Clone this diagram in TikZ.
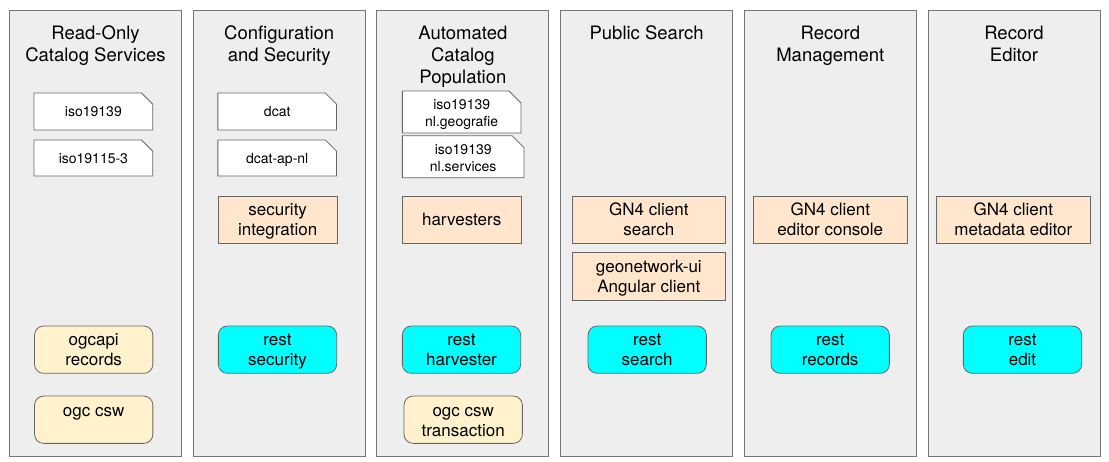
\documentclass[tikz,border=0pt]{standalone}
\usepackage{fontspec}
\setmainfont{TeX Gyre Heros}
\usetikzlibrary{shapes.misc}
\definecolor{panelfill}{HTML}{EEEEEE}
\definecolor{panelline}{HTML}{777777}
\definecolor{boxline}{HTML}{666666}
\definecolor{peach}{HTML}{FFE6CC}
\definecolor{cream}{HTML}{FFF2CC}
\definecolor{cyanfill}{HTML}{00FFFF}
\tikzset{
  x=1pt,y=-1pt,
  panel/.style={draw=panelline,fill=panelfill,line width=0.9pt,minimum width=172pt,minimum height=446pt,inner sep=0pt},
  ptitle/.style={align=center,font=\fontsize{18.5}{22}\selectfont,inner sep=0pt,anchor=base},
  docbox/.style={chamfered rectangle,chamfered rectangle corners=north east,
    chamfered rectangle xsep=6pt,chamfered rectangle ysep=6pt,
    draw=boxline,fill=white,line width=0.8pt,inner sep=0pt,
    minimum width=118.7pt,minimum height=37pt,align=center,
    font=\fontsize{14}{17.5}\selectfont},
  docone/.style={docbox,text height=10.4pt,text depth=0pt},
  doctwo/.style={docbox,text height=30pt,text depth=0pt},
  compbox/.style={draw=boxline,fill=peach,line width=0.8pt,inner sep=0pt,
    minimum width=118.7pt,minimum height=47.3pt,align=center,
    font=\fontsize{17}{20}\selectfont},
  apibox/.style={draw=boxline,line width=0.8pt,rounded corners=9pt,inner sep=0pt,
    minimum width=118.3pt,minimum height=47.3pt,align=center,
    font=\fontsize{17}{20}\selectfont},
  restbox/.style={apibox,fill=cyanfill},
  ogcbox/.style={apibox,fill=cream},
  lineone/.style={text height=12pt,text depth=0pt},
  linetwo/.style={text height=32.6pt,text depth=0pt},
}
\begin{document}
\begin{tikzpicture}
\useasboundingbox (0,0) rectangle (1109,462);
% panels
\node[panel] (p1) at (95.5,233) {};
\node[panel] (p2) at (279.2,233) {};
\node[panel] (p3) at (462.9,233) {};
\node[panel] (p4) at (646.6,233) {};
\node[panel] (p5) at (830.3,233) {};
\node[panel] (p6) at (1014,233) {};
% titles (anchored at the baseline of their last line)
\node[ptitle] (t1) at (95.5,62) {Read-Only\\Catalog Services};
\node[ptitle] (t2) at (279.2,62) {Configuration\\and Security};
\node[ptitle] (t3) at (462.9,84) {Automated\\Catalog\\Population};
\node[ptitle] (t4) at (646.6,40) {Public Search};
\node[ptitle] (t5) at (830.3,62) {Record\\Management};
\node[ptitle] (t6) at (1014,62) {Record\\Editor};
% documents
\node[docone] (d11) at (93.4,111.5) {iso19139};
\node[docone,minimum height=36pt] (d12) at (93.4,158) {iso19115-3};
\node[docone] (d21) at (277.2,111.5) {dcat};
\node[docone,minimum height=36pt] (d22) at (277.2,158) {dcat-ap-nl};
\node[doctwo,minimum height=37.4pt] (d31) at (461.7,112) {iso19139\\nl.geografie};
\node[doctwo,minimum width=121.7pt,minimum height=36.7pt] (d32) at (463.2,156.7) {iso19139\\nl.services};
% components
\node[compbox,linetwo] (c2) at (277.7,219.6) {security\\integration};
\node[compbox,lineone] (c3) at (461.7,219.6) {harvesters};
\node[compbox,linetwo,minimum width=153pt] (c4a) at (648.8,219.6) {GN4 client\\search};
\node[compbox,linetwo,minimum width=153pt,minimum height=48pt] (c4b) at (648.8,276.7) {geonetwork-ui\\Angular client};
\node[compbox,linetwo,minimum width=154pt] (c5) at (830.3,219.6) {GN4 client\\editor console};
\node[compbox,linetwo,minimum width=153.3pt] (c6) at (1013.3,219.6) {GN4 client\\metadata editor};
% apis
\node[ogcbox,linetwo] (a11) at (93.7,349.7) {ogcapi\\records};
\node[ogcbox,linetwo] (a12) at (93.7,419.7) {ogc csw\\\mbox{}};
\node[restbox,linetwo] (a2) at (277.5,349.7) {rest\\security};
\node[restbox,linetwo] (a31) at (461.5,349.7) {rest\\harvester};
\node[ogcbox,linetwo] (a32) at (463.2,419.7) {ogc csw\\transaction};
\node[restbox,linetwo] (a4) at (647.2,349.7) {rest\\search};
\node[restbox,linetwo] (a5) at (830.2,349.7) {rest\\records};
\node[restbox,linetwo] (a6) at (1022.5,349.7) {rest\\edit};
\end{tikzpicture}
\end{document}
